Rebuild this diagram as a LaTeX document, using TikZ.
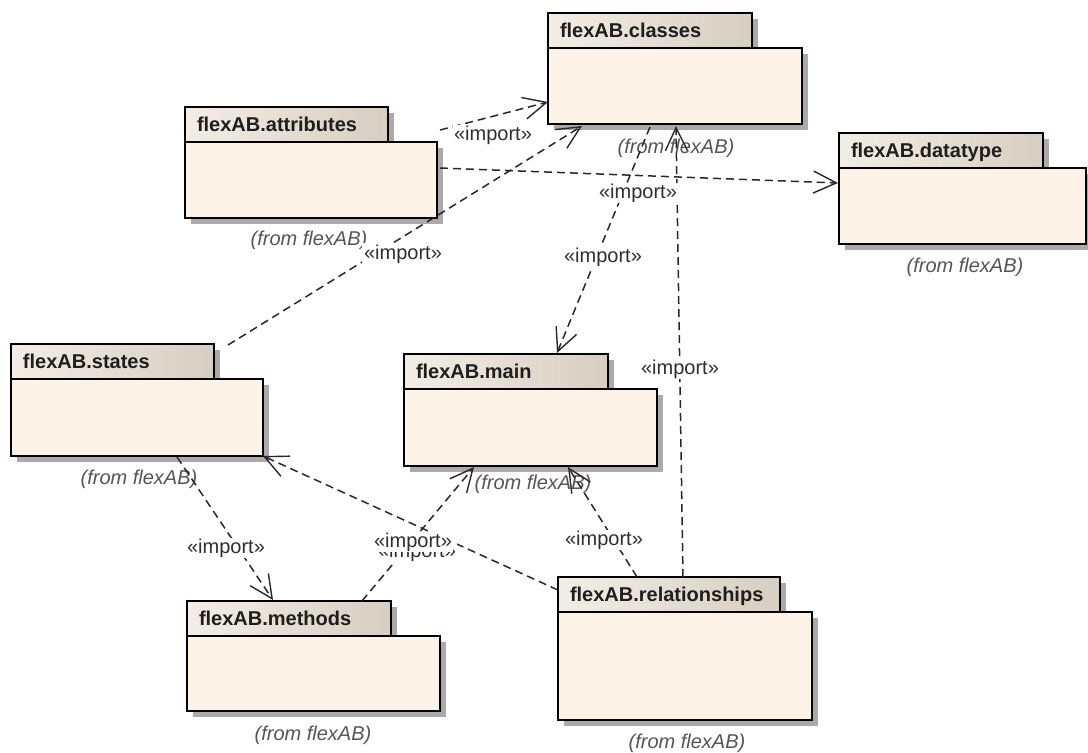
\documentclass[tikz,border=0pt]{standalone}
\usepackage{fontspec}
\setmainfont{Liberation Sans}
\usetikzlibrary{arrows.meta,shadows}

\definecolor{tabLight}{RGB}{243,238,229}
\definecolor{tabDark}{RGB}{214,206,192}
\definecolor{pkgFill}{RGB}{252,243,230}
\definecolor{pkgShadow}{RGB}{170,170,170}
\definecolor{depLine}{RGB}{40,40,40}
\definecolor{fromText}{RGB}{85,85,85}
\definecolor{titleText}{RGB}{30,30,30}

\tikzset{
  pkgshadow/.style={drop shadow={shadow xshift=6pt, shadow yshift=-6pt, fill=pkgShadow, opacity=1}},
  pkgtab/.style={draw=black, line width=2.4pt, left color=tabLight, right color=tabDark,
    pkgshadow, anchor=north west, outer sep=0pt, inner xsep=12pt, inner ysep=0pt,
    align=left, text height=15pt, text depth=1pt, minimum height=35pt,
    font=\fontsize{20pt}{24pt}\selectfont\bfseries, text=titleText},
  pkgbody/.style={draw=black, line width=2.4pt, fill=pkgFill, pkgshadow,
    anchor=north west, outer sep=0pt, inner sep=0pt},
  fromlbl/.style={font=\fontsize{20pt}{24pt}\selectfont\itshape, text=fromText, inner sep=0pt},
  deplbl/.style={font=\fontsize{20pt}{24pt}\selectfont, text=black!82, fill=white, inner sep=1pt},
  dep/.style={draw=depLine, line width=1.5pt, dash pattern=on 8pt off 5pt,
    -{Straight Barb[length=23pt, width=22pt, line width=1.4pt]}},
}

\begin{document}
\begin{tikzpicture}[x=1pt, y=-1pt]
\useasboundingbox (0,0) rectangle (1088,753);
\fill[white] (0,0) rectangle (1088,753);

% flexAB.classes
\node[pkgtab, text width=180pt] (clsT) at (548,13) {flexAB.classes};
\node[pkgbody, minimum width=254pt, minimum height=76pt] (clsB) at (clsT.south west) {};
\node[fromlbl] (clsF) at (676,148) {(from flexAB)};

% flexAB.attributes
\node[pkgtab, text width=179pt] (attT) at (185,107) {flexAB.attributes};
\node[pkgbody, minimum width=252pt, minimum height=76pt] (attB) at (attT.south west) {};
\node[fromlbl] (attF) at (309,240) {(from flexAB)};

% flexAB.datatype
\node[pkgtab, text width=180pt] (dtT) at (839,133) {flexAB.datatype};
\node[pkgbody, minimum width=247pt, minimum height=76pt] (dtB) at (dtT.south west) {};
\node[fromlbl] (dtF) at (965,267) {(from flexAB)};

% flexAB.states
\node[pkgtab, text width=179pt] (stT) at (11,344) {flexAB.states};
\node[pkgbody, minimum width=252pt, minimum height=77pt] (stB) at (stT.south west) {};
\node[fromlbl] (stF) at (139,479) {(from flexAB)};

% flexAB.main
\node[pkgtab, text width=180pt] (mnT) at (404,354) {flexAB.main};
\node[pkgbody, minimum width=253pt, minimum height=77pt] (mnB) at (mnT.south west) {};
\node[fromlbl] (mnF) at (533,484) {(from flexAB)};

% flexAB.methods
\node[pkgtab, text width=180pt] (mtT) at (187,601) {flexAB.methods};
\node[pkgbody, minimum width=253pt, minimum height=75pt] (mtB) at (mtT.south west) {};
\node[fromlbl] (mtF) at (313,735) {(from flexAB)};

% flexAB.relationships
\node[pkgtab, text width=198pt] (rlT) at (558,577) {flexAB.relationships};
\node[pkgbody, minimum width=254pt, minimum height=108pt] (rlB) at (rlT.south west) {};
\node[fromlbl] (rlF) at (687,743) {(from flexAB)};

% import dependencies
\draw[dep] ([shift={(3,-12)}]attB.north east) -- ([shift={(0,54)}]clsB.north west);
\draw[dep] ([shift={(3,26)}]attB.north east) -- ([shift={(-1,15)}]dtB.north west);
\draw[dep] ([shift={(14,1)}]stT.north east) -- ([shift={(34,2)}]clsB.south west);
\draw[dep] ([shift={(102,3)}]clsB.south west) -- ([shift={(153,-1)}]mnT.north west);
\draw[dep] ([shift={(125,0)}]rlT.north west) -- ([shift={(128,2)}]clsB.south west);
\draw[dep] ([shift={(79,0)}]rlT.north west) -- ([shift={(164,1)}]mnB.south west);
\draw[dep] ([shift={(0,13)}]rlT.north west) -- (stB.south east);
\draw[dep] ([shift={(175,0)}]mtT.north west) -- ([shift={(70,1)}]mnB.south west);
\draw[dep] ([shift={(166,1)}]stB.south west) -- ([shift={(86,-1)}]mtT.north west);

% stereotype labels
\node[deplbl] (lAttCls) at (493,135) {«import»};
\node[deplbl] (lAttDt) at (638,193) {«import»};
\node[deplbl, inner sep=2pt] (lStCls) at (403,254) {«import»};
\node[deplbl] (lClsMn) at (603,257) {«import»};
\node[deplbl] (lRlCls) at (680,369) {«import»};
\node[deplbl] (lRlMn) at (604,540) {«import»};
\node[deplbl] (lStMt) at (226,548) {«import»};
\node[deplbl] (lRlSt) at (417,552) {«import»};
\node[deplbl] (lMtMn) at (413,542) {«import»};
\end{tikzpicture}
\end{document}
